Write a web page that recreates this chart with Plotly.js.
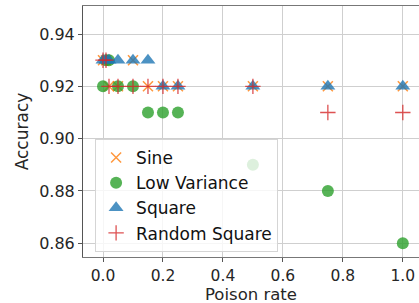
<!DOCTYPE html>
<html>
<head>
<meta charset="utf-8">
<script src="https://cdn.plot.ly/plotly-3.0.1.min.js"></script>
<style>html,body{margin:0;padding:0;background:#fff;}#chart{width:419px;height:303px;}</style>
</head>
<body>
<div id="chart"></div>
<script>
const poisonRates = [0, 0.01, 0.02, 0.05, 0.1, 0.15, 0.2, 0.25, 0.5, 0.75, 1.0];
const sineAcc = [0.93, 0.93, 0.92, 0.92, 0.93, 0.92, 0.92, 0.92, 0.92, 0.92, 0.92];
const lowVarianceAcc = [0.92, 0.93, 0.93, 0.92, 0.92, 0.91, 0.91, 0.91, 0.89, 0.88, 0.86];
const squareAcc = [0.93, 0.93, 0.93, 0.93, 0.93, 0.93, 0.92, 0.92, 0.92, 0.92, 0.92];
const randomSquareAcc = [0.93, 0.93, 0.92, 0.92, 0.92, 0.92, 0.92, 0.92, 0.92, 0.91, 0.91];
const seriesNames = ["Sine", "Low Variance", "Square", "Random Square"];
const xTicks = [0, 0.2, 0.4, 0.6, 0.8, 1.0];
const xTickText = ["0.0", "0.2", "0.4", "0.6", "0.8", "1.0"];
const yTicks = [0.86, 0.88, 0.90, 0.92, 0.94];
const yTickText = ["0.86", "0.88", "0.90", "0.92", "0.94"];
const xTitle = "Poison rate";
const yTitle = "Accuracy";

const FAM = "DejaVu Sans, sans-serif";
const traces = [
  {x: poisonRates, y: sineAcc, name: seriesNames[0], mode: "markers", type: "scatter",
   marker: {symbol: "x-thin", size: 10, color: "#ff7f0e", opacity: 0.8, line: {width: 1.5, color: "#ff7f0e"}}},
  {x: poisonRates, y: lowVarianceAcc, name: seriesNames[1], mode: "markers", type: "scatter",
   marker: {symbol: "circle", size: 12, color: "#2ca02c", opacity: 0.8, line: {width: 0}}},
  {x: poisonRates, y: squareAcc, name: seriesNames[2], mode: "markers", type: "scatter",
   marker: {symbol: "triangle-up", size: 13, color: "#1f77b4", opacity: 0.8, line: {width: 0}}},
  {x: poisonRates, y: randomSquareAcc, name: seriesNames[3], mode: "markers", type: "scatter",
   marker: {symbol: "cross-thin", size: 11, color: "#d62728", opacity: 0.8, line: {width: 1.3, color: "#d62728"}}}
];
const layout = {
  width: 419, height: 303,
  margin: {l: 83, r: 0, t: 6, b: 46},
  paper_bgcolor: "#fff", plot_bgcolor: "#fff",
  font: {family: FAM, size: 16, color: "#262626"},
  showlegend: true,
  legend: {x: 0.036, y: 0.47, xanchor: "left", yanchor: "top",
    bgcolor: "rgba(255,255,255,0.8)", bordercolor: "#d5d5d5", borderwidth: 1,
    tracegroupgap: 0,
    font: {family: FAM, size: 17, color: "#111"}},
  annotations: [
    {text: xTitle, xref: "paper", yref: "paper", x: 0.5, y: -0.19, xanchor: "center", yanchor: "bottom",
     showarrow: false, borderpad: 0, font: {family: FAM, size: 16.5, color: "#262626"}}
  ],
  xaxis: {range: [-0.0667, 1.054], tickvals: xTicks, ticktext: xTickText,
    showgrid: true, gridcolor: "#cfcfcf", gridwidth: 1, zeroline: false,
    showline: true, linecolor: "#777", linewidth: 1, mirror: true,
    ticks: "outside", ticklen: 4, tickcolor: "#555",
    tickfont: {family: FAM, size: 15.5, color: "#262626"}},
  yaxis: {range: [0.85476, 0.95071], tickvals: yTicks, ticktext: yTickText,
    showgrid: true, gridcolor: "#cfcfcf", gridwidth: 1, zeroline: false,
    showline: true, linecolor: "#555", linewidth: 1, mirror: false,
    ticks: "outside", ticklen: 4, tickcolor: "#555",
    title: {text: yTitle, font: {family: FAM, size: 17, color: "#262626"}, standoff: 6},
    tickfont: {family: FAM, size: 16, color: "#262626"}}
};
Plotly.newPlot("chart", traces, layout, {displayModeBar: false, staticPlot: true});
</script>
</body>
</html>
